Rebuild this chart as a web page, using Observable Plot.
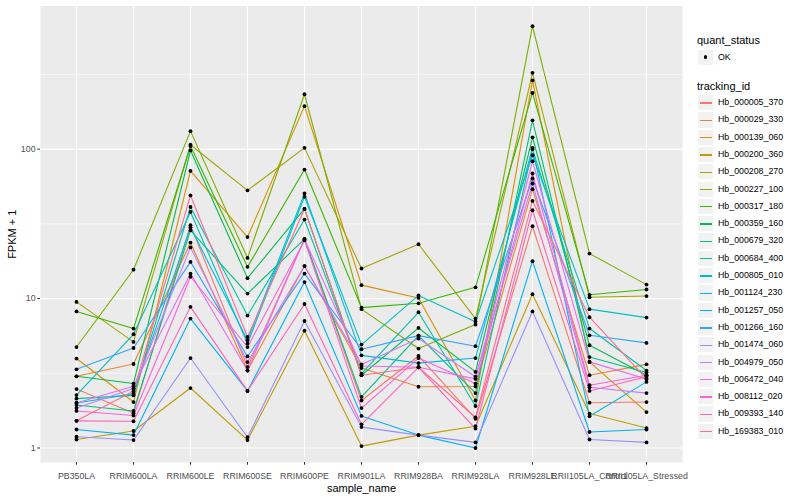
<!DOCTYPE html>
<html>
<head>
<meta charset="utf-8">
<script src="https://cdn.jsdelivr.net/npm/d3@7"></script>
<script src="https://cdn.jsdelivr.net/npm/@observablehq/plot@0.6"></script>
<style>
  html, body { margin: 0; padding: 0; background: #fff; }
  body { width: 800px; height: 500px; position: relative; overflow: hidden;
         font-family: "Liberation Sans", Arial, sans-serif; }
  #chart { position: absolute; left: 0; top: 0; }
  #legend { position: absolute; left: 690px; top: 0; width: 110px; height: 500px; }
  .ltitle { position: absolute; left: 7px; font-size: 11px; color: #000; line-height: 11px; }
  .lkey { position: absolute; left: 7px; width: 17.3px; height: 17.3px; box-sizing: border-box;
          background: #F2F2F2; border: 1px solid #fff; }
  .lline { position: absolute; left: 1.5px; right: 1.5px; top: 7.4px; height: 1.3px; }
  .ldot { position: absolute; left: 5.9px; top: 5.9px; width: 3.6px; height: 3.6px; border-radius: 50%; background: #000; }
  .llabel { position: absolute; left: 28px; font-size: 8.8px; color: #000; line-height: 17.3px; white-space: nowrap; }
</style>
</head>
<body>
<div id="chart"></div>
<div id="legend"></div>
<script>
// ---- categories ----
const samples = ["PB350LA", "RRIM600LA", "RRIM600LE", "RRIM600SE", "RRIM600PE", "RRIM901LA",
  "RRIM928BA", "RRIM928LA", "RRIM928LE", "RRII105LA_Control", "RRII105LA_Stressed"];

const trackingIds = ["Hb_000005_370", "Hb_000029_330", "Hb_000139_060", "Hb_000200_360",
  "Hb_000208_270", "Hb_000227_100", "Hb_000317_180", "Hb_000359_160", "Hb_000679_320",
  "Hb_000684_400", "Hb_000805_010", "Hb_001124_230", "Hb_001257_050", "Hb_001266_160",
  "Hb_001474_060", "Hb_004979_050", "Hb_006472_040", "Hb_008112_020", "Hb_009393_140",
  "Hb_169383_010"];

const trackingColors = ["#F8766D", "#EA8331", "#D89000", "#C09B00", "#A3A500", "#7CAE00",
  "#39B600", "#00BB4E", "#00BF7D", "#00C1A3", "#00BFC4", "#00BAE0", "#00B0F6", "#35A2FF",
  "#9590FF", "#C77CFF", "#E76BF3", "#FA62DB", "#FF62BC", "#FF6C91"];

const quantStatus = ["OK"];
const yTicks = [1, 10, 100];

// ---- FPKM + 1 per tracking id, one value per sample ----
const hb_000005_370 = [2.48, 1.71, 31, 3.48, 25, 2.08, 4.13, 1.57, 30.5, 2.01, 2.03];
const hb_000029_330 = [3.02, 3.65, 23.7, 3.3, 16.5, 3.43, 2.57, 2.58, 54, 3.07, 3.63];
const hb_000139_060 = [3.97, 2.03, 71.5, 25.8, 194, 12.3, 10.1, 2.08, 289, 3.77, 1.74];
const hb_000200_360 = [1.14, 1.30, 2.52, 1.13, 6.1, 1.03, 1.22, 1.4, 10.7, 1.70, 1.36];
const hb_000208_270 = [9.5, 5.13, 107, 53, 102, 15.9, 23.1, 7.35, 324, 10.2, 10.4];
const hb_000227_100 = [4.74, 15.6, 132, 18.7, 233, 8.5, 4.63, 6.7, 665, 20, 12.4];
const hb_000317_180 = [8.2, 6.3, 105, 16.3, 73, 8.7, 9.3, 11.9, 238, 10.6, 11.5];
const hb_000359_160 = [3.02, 2.7, 98, 13.7, 39.8, 3.07, 6.36, 3.23, 120, 4.87, 3.07];
const hb_000679_320 = [1.94, 1.77, 28.6, 10.8, 25, 2.2, 5.65, 2.33, 156, 4.06, 3.2];
const hb_000684_400 = [2.14, 2.25, 41, 7.7, 33.8, 3.15, 8.1, 1.91, 100, 6.3, 3.3];
const hb_000805_010 = [2.26, 5.77, 38, 5.0, 48, 4.92, 10.5, 7.0, 91, 8.5, 7.46];
const hb_001124_230 = [2.0, 2.31, 30, 5.26, 50.5, 4.17, 3.7, 4.0, 102, 1.63, 2.77];
const hb_001257_050 = [1.33, 1.22, 7.35, 2.41, 12.9, 1.64, 1.22, 1.0, 17.8, 1.28, 1.33];
const hb_001266_160 = [3.36, 4.67, 17.6, 4.1, 14.7, 4.58, 5.65, 4.8, 63.6, 5.68, 5.05];
const hb_001474_060 = [1.19, 1.13, 4.0, 1.18, 7.08, 1.38, 1.22, 1.09, 8.2, 1.14, 1.09];
const hb_004979_050 = [1.85, 2.5, 22, 3.76, 16.5, 3.62, 5.4, 3.0, 58.9, 2.55, 2.33];
const hb_006472_040 = [2.0, 2.59, 14.7, 3.3, 25, 3.54, 3.47, 2.9, 83, 3.77, 2.9];
const hb_008112_020 = [1.77, 1.65, 14, 4.74, 24.5, 1.85, 4.0, 2.7, 68.7, 2.63, 3.07];
const hb_009393_140 = [1.52, 1.51, 8.8, 2.41, 9.2, 1.44, 3.47, 1.35, 39, 2.41, 3.0];
const hb_169383_010 = [1.52, 2.4, 49, 5.53, 39.8, 3.07, 3.47, 1.6, 45, 7.5, 2.9];

const seriesValues = [hb_000005_370, hb_000029_330, hb_000139_060, hb_000200_360,
  hb_000208_270, hb_000227_100, hb_000317_180, hb_000359_160, hb_000679_320,
  hb_000684_400, hb_000805_010, hb_001124_230, hb_001257_050, hb_001266_160,
  hb_001474_060, hb_004979_050, hb_006472_040, hb_008112_020, hb_009393_140,
  hb_169383_010];

// long table built from the arrays
const data = [];
trackingIds.forEach((id, i) => {
  seriesValues[i].forEach((v, j) => data.push({tracking_id: id, sample_name: samples[j], value: v, quant_status: "OK"}));
});

const font = '"Liberation Sans", Arial, sans-serif';

const chart = Plot.plot({
  width: 690,
  height: 500,
  marginLeft: 40,
  marginRight: 8,
  marginTop: 5.5,
  marginBottom: 38,
  style: {fontFamily: font, fontSize: "8.8px", background: "transparent"},
  x: {type: "point", domain: samples, padding: 0.6},
  y: {type: "log", domain: [Math.pow(10, -0.097), Math.pow(10, 2.958)]},
  color: {domain: trackingIds, range: trackingColors},
  marks: [
    Plot.frame({fill: "#EBEBEB", stroke: null}),
    Plot.ruleY([Math.sqrt(10), Math.sqrt(1000), Math.sqrt(100000)], {stroke: "#fff", strokeWidth: 0.55}),
    Plot.ruleY(yTicks, {stroke: "#fff", strokeWidth: 1.1}),
    Plot.ruleX(samples, {stroke: "#fff", strokeWidth: 1.1}),
    Plot.line(data, {x: "sample_name", y: "value", z: "tracking_id", stroke: "tracking_id", strokeWidth: 1.1}),
    Plot.dot(data, {x: "sample_name", y: "value", r: 1.9, fill: "#000", stroke: null}),
    Plot.axisY({ticks: yTicks, tickFormat: d => String(d), tickSize: 2.75, tickPadding: 2.2,
      fontSize: 8.8, color: "#4D4D4D", stroke: "#333", label: null}),
    Plot.axisX({tickSize: 2.75, tickPadding: 7.5, fontSize: 8.8, color: "#4D4D4D", stroke: "#333", label: null}),
    Plot.text(["FPKM + 1"], {frameAnchor: "left", dx: -28, rotate: -90, textAnchor: "middle", lineAnchor: "middle",
      fontSize: 11, fill: "#000", text: d => d}),
    Plot.text(["sample_name"], {frameAnchor: "bottom", dy: 26, lineAnchor: "middle", textAnchor: "middle",
      fontSize: 11, fill: "#000", text: d => d})
  ]
});
document.getElementById("chart").appendChild(chart);

// ---- legend ----
const legend = document.getElementById("legend");
function add(html) { legend.insertAdjacentHTML("beforeend", html); }
add(`<div class="ltitle" style="top:35px">quant_status</div>`);
quantStatus.forEach((q, i) => {
  const top = 48.5 + i * 17.3;
  add(`<div class="lkey" style="top:${top}px"><div class="ldot"></div></div>`);
  add(`<div class="llabel" style="top:${top}px">${q}</div>`);
});
add(`<div class="ltitle" style="top:81px">tracking_id</div>`);
trackingIds.forEach((id, i) => {
  const top = 94 + i * 17.3;
  add(`<div class="lkey" style="top:${top}px"><div class="lline" style="background:${trackingColors[i]}"></div></div>`);
  add(`<div class="llabel" style="top:${top}px">${id}</div>`);
});
</script>
</body>
</html>
